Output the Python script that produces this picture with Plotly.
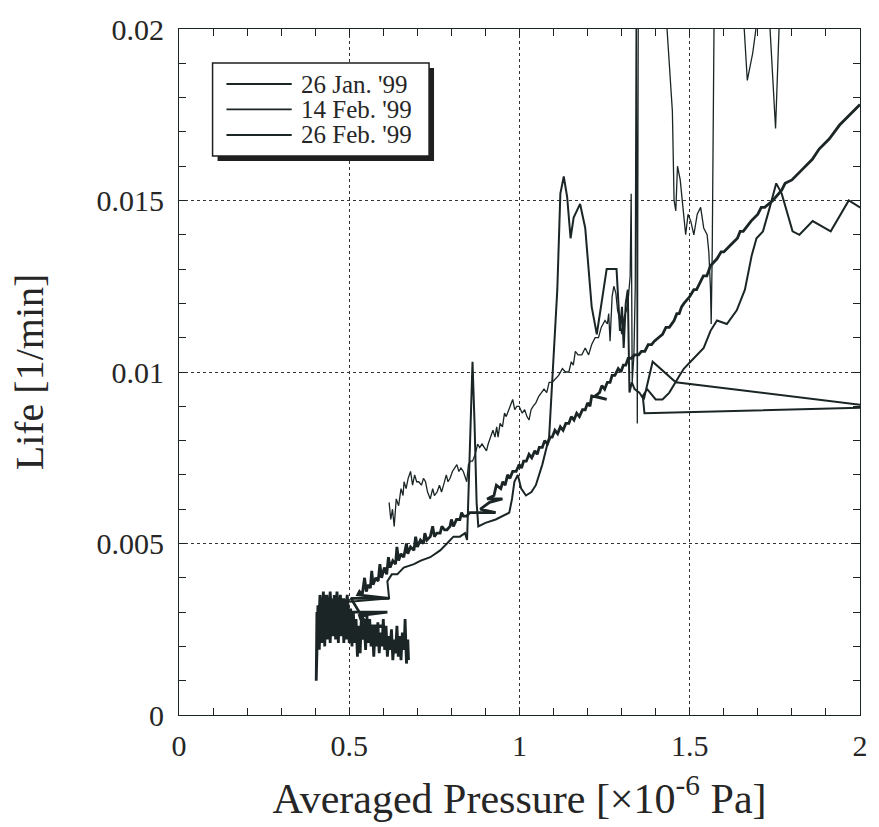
import plotly.graph_objects as go

# ---- data: averaged pressure [x1e-6 Pa] vs life [1/min] ----

# 26 Jan. '99 (thin trace, upper branch, many excursions above the axis limit)
jan26_p = [0.617, 0.622, 0.627, 0.632, 0.638, 0.645, 0.652, 0.658, 0.661, 0.667,
           0.673, 0.680, 0.686, 0.692, 0.698, 0.704, 0.712, 0.718, 0.724, 0.730,
           0.738, 0.745, 0.750, 0.758, 0.765, 0.771, 0.777, 0.785, 0.790, 0.796,
           0.803, 0.810, 0.816, 0.822, 0.828, 0.835, 0.841, 0.845, 0.850, 0.856,
           0.862, 0.870, 0.877, 0.883, 0.890, 0.897, 0.903, 0.908, 0.915, 0.922,
           0.928, 0.933, 0.937, 0.943, 0.950, 0.956, 0.961, 0.968, 0.975, 0.980,
           0.986, 0.992, 0.999, 1.008, 1.015, 1.022, 1.028, 1.034, 1.040, 1.048,
           1.057, 1.065, 1.072, 1.080, 1.087, 1.096, 1.105, 1.115, 1.126, 1.135,
           1.145, 1.152, 1.158, 1.164, 1.172, 1.183, 1.193, 1.203, 1.212, 1.222,
           1.232, 1.240, 1.251, 1.258, 1.262, 1.266, 1.272, 1.277, 1.283, 1.288,
           1.295, 1.300, 1.307, 1.314, 1.320, 1.325, 1.328, 1.331, 1.336, 1.340,
           1.343, 1.346, 1.349, 1.400, 1.430, 1.449, 1.454, 1.459, 1.464, 1.472,
           1.480, 1.488, 1.495, 1.503, 1.512, 1.522, 1.532, 1.541, 1.551, 1.556,
           1.561, 1.563, 1.566, 1.572, 1.620, 1.657, 1.669, 1.685, 1.701, 1.720,
           1.733, 1.752, 1.764, 1.800, 2.050]
jan26_life = [0.0062, 0.0057, 0.0060, 0.0055, 0.0063, 0.0061, 0.0066, 0.0064, 0.0068, 0.0066,
              0.0069, 0.0071, 0.0067, 0.0070, 0.0068, 0.0068, 0.0067, 0.0069, 0.0068, 0.0065,
              0.0063, 0.0066, 0.0064, 0.0065, 0.0067, 0.0065, 0.0067, 0.0070, 0.0068, 0.0069,
              0.0071, 0.0072, 0.0073, 0.0071, 0.0072, 0.0071, 0.0069, 0.0068, 0.0073, 0.0074,
              0.0074, 0.0076, 0.0079, 0.0078, 0.0079, 0.0078, 0.0077, 0.0079, 0.0081, 0.0083,
              0.0081, 0.0084, 0.0081, 0.0085, 0.0084, 0.0088, 0.0087, 0.0089, 0.0091, 0.0092,
              0.0089, 0.0090, 0.0090, 0.0088, 0.0089, 0.0087, 0.0086, 0.0089, 0.0090, 0.0091,
              0.0093, 0.0094, 0.0095, 0.0094, 0.0097, 0.0097, 0.0098, 0.0099, 0.0101, 0.0100,
              0.0100, 0.0103, 0.0102, 0.0106, 0.0105, 0.0105, 0.0107, 0.0105, 0.0108, 0.0110,
              0.0110, 0.0113, 0.0115, 0.0114, 0.0117, 0.0109, 0.0122, 0.0125, 0.0123, 0.0118,
              0.0115, 0.0111, 0.0116, 0.0118, 0.0122, 0.0128, 0.0152, 0.0097, 0.0105, 0.0125,
              0.0215, 0.0085, 0.0215, 0.0240, 0.0205, 0.0176, 0.0150, 0.0147, 0.0160, 0.0156,
              0.0148, 0.0140, 0.0146, 0.0144, 0.0140, 0.0146, 0.0148, 0.0142, 0.0140, 0.0135,
              0.0124, 0.0114, 0.0135, 0.0210, 0.0240, 0.0205, 0.0185, 0.0193, 0.0205, 0.0230,
              0.0205, 0.0171, 0.0205, 0.0240, 0.0250]

# 14 Feb. '99 (medium trace with the sharp spike near 0.86 and the peaks at 1.1-1.3)
feb14_p = [0.500, 0.617, 0.612, 0.625, 0.641, 0.660, 0.690, 0.710, 0.738, 0.767,
           0.787, 0.806, 0.825, 0.840, 0.846, 0.855, 0.862, 0.868, 0.874, 0.879,
           0.900, 0.930, 0.951, 0.970, 0.978, 0.985, 0.995, 1.005, 1.019, 1.035,
           1.048, 1.067, 1.087, 1.096, 1.104, 1.111, 1.120, 1.130, 1.140, 1.150,
           1.159, 1.178, 1.193, 1.203, 1.212, 1.227, 1.242, 1.256, 1.285, 1.290,
           1.295, 1.301, 1.306, 1.312, 1.318, 1.323, 1.330, 1.338, 1.352, 1.365,
           1.391, 1.459, 2.060, 1.367, 1.362, 1.375, 1.400, 1.420, 1.440, 1.470,
           1.483, 1.512, 1.541, 1.561, 1.580, 1.609, 1.638, 1.662, 1.682, 1.696,
           1.715, 1.735, 1.754, 1.770, 1.802, 1.822, 1.861, 1.914, 1.967, 2.000,
           2.040]
feb14_life = [0.0033, 0.0034, 0.0039, 0.0041, 0.0041, 0.0043, 0.0044, 0.0045, 0.0046, 0.0048,
              0.0050, 0.0052, 0.0052, 0.0053, 0.0051, 0.0080, 0.0103, 0.0085, 0.0062, 0.0055,
              0.0056, 0.0057, 0.0058, 0.0059, 0.0063, 0.0068, 0.0070, 0.0066, 0.0064, 0.0065,
              0.0067, 0.0073, 0.0081, 0.0097, 0.0115, 0.0124, 0.0152, 0.0157, 0.0151, 0.0139,
              0.0145, 0.0149, 0.0142, 0.0130, 0.0119, 0.0111, 0.0121, 0.0130, 0.0130, 0.0120,
              0.0112, 0.0119, 0.0107, 0.0120, 0.0124, 0.0094, 0.0097, 0.0095, 0.0094, 0.0092,
              0.0103, 0.0097, 0.00897, 0.0088, 0.0093, 0.0095, 0.0092, 0.0092, 0.0094, 0.0099,
              0.0101, 0.0104, 0.0107, 0.0112, 0.0115, 0.0114, 0.0118, 0.0124, 0.0134, 0.0139,
              0.0141, 0.0148, 0.0155, 0.0152, 0.0141, 0.0140, 0.0144, 0.0141, 0.0150, 0.0148,
              0.0146]

# 26 Feb. '99 (thick trace: dense cluster at low pressure, then a steady climb)
feb26_p = [
    # cluster, sweeping toward low pressure
    0.674, 0.672, 0.668, 0.664, 0.661, 0.656, 0.652, 0.648, 0.644, 0.640,
    0.636, 0.632, 0.628, 0.624, 0.620, 0.616, 0.612, 0.608, 0.604, 0.600,
    0.596, 0.592, 0.588, 0.584, 0.580, 0.576, 0.572, 0.568, 0.564, 0.560,
    0.556, 0.552, 0.548, 0.544, 0.540, 0.536, 0.532, 0.528, 0.524, 0.520,
    0.516, 0.512, 0.508, 0.504, 0.500, 0.496, 0.492, 0.488, 0.484, 0.480,
    0.476, 0.472, 0.468, 0.464, 0.460, 0.456, 0.452, 0.448, 0.444, 0.440,
    0.436, 0.432, 0.428, 0.424, 0.420, 0.416, 0.412, 0.408, 0.405, 0.403,
    0.405,
    # cluster, sweeping back along the upper band
    0.410, 0.414, 0.419, 0.424, 0.429, 0.434, 0.439, 0.444, 0.449, 0.454,
    0.459, 0.464, 0.469, 0.474, 0.479, 0.484, 0.489, 0.494, 0.499,
    0.505, 0.612, 0.530, 0.540, 0.600, 0.560, 0.505, 0.617, 0.525,
    # climb
    0.530, 0.538, 0.545, 0.550, 0.556, 0.562, 0.566, 0.570, 0.578, 0.585,
    0.590, 0.595, 0.603, 0.610, 0.615, 0.620, 0.628, 0.636, 0.640, 0.645,
    0.652, 0.660, 0.668, 0.672, 0.680, 0.690, 0.695, 0.700, 0.709, 0.718,
    0.722, 0.728, 0.738, 0.745, 0.750, 0.757, 0.767, 0.772, 0.780, 0.787,
    0.796, 0.800, 0.806, 0.815, 0.825, 0.830, 0.835, 0.845, 0.854, 0.874,
    0.890, 0.930, 0.885, 0.912, 0.950, 0.905, 0.925, 0.932, 0.945, 0.951,
    0.958, 0.965, 0.972, 0.980, 0.990, 0.999, 1.006, 1.012, 1.020, 1.028,
    1.036, 1.045, 1.052, 1.058, 1.067, 1.074, 1.082, 1.090, 1.096, 1.104,
    1.112, 1.120, 1.128, 1.136, 1.145, 1.152, 1.160, 1.168, 1.176, 1.185,
    1.193, 1.200, 1.207, 1.212, 1.256, 1.222, 1.235, 1.242, 1.250, 1.258,
    1.266, 1.272, 1.280, 1.290, 1.298, 1.305, 1.312, 1.319, 1.328, 1.338,
    1.350, 1.358, 1.368, 1.378, 1.388, 1.396, 1.408, 1.420, 1.430, 1.440,
    1.454, 1.462, 1.469, 1.476, 1.483, 1.500, 1.512, 1.520, 1.540, 1.550,
    1.561, 1.580, 1.592, 1.600, 1.620, 1.640, 1.648, 1.657, 1.680, 1.700,
    1.710, 1.720, 1.744, 1.770, 1.780, 1.800, 1.830, 1.860, 1.880, 1.910,
    1.940, 1.970, 2.000]
feb26_life = [
    0.0016, 0.0022, 0.0015, 0.0028, 0.0019, 0.0024, 0.0016, 0.0023, 0.0017, 0.0026,
    0.0018, 0.0022, 0.0016, 0.0025, 0.0019, 0.0023, 0.0017, 0.0026, 0.0019, 0.0028,
    0.0020, 0.0024, 0.0018, 0.0027, 0.0020, 0.0025, 0.0017, 0.0026, 0.0020, 0.0028,
    0.0021, 0.0029, 0.0019, 0.0027, 0.0022, 0.0030, 0.0018, 0.0026, 0.0017, 0.0028,
    0.0021, 0.0030, 0.0020, 0.0031, 0.0021, 0.0032, 0.0022, 0.0033, 0.0021, 0.0034,
    0.0023, 0.0033, 0.0021, 0.0034, 0.0022, 0.0035, 0.0023, 0.0033, 0.0021, 0.0034,
    0.0022, 0.0035, 0.0020, 0.0034, 0.0021, 0.0033, 0.0019, 0.0032, 0.0018, 0.0010,
    0.0030,
    0.0025, 0.0035, 0.0027, 0.0036, 0.0026, 0.0035, 0.0028, 0.0036, 0.0027, 0.0034,
    0.0029, 0.0036, 0.0028, 0.0035, 0.0027, 0.0034, 0.0029, 0.0035, 0.0028,
    0.0030, 0.0030, 0.0029, 0.0026, 0.0026, 0.0025, 0.0034, 0.0034, 0.0035,
    0.0036, 0.0035, 0.0040, 0.0036, 0.0038, 0.0037, 0.0042, 0.0038, 0.0040, 0.0039,
    0.0044, 0.0040, 0.0043, 0.0041, 0.0046, 0.0043, 0.0045, 0.0044, 0.0049, 0.0045,
    0.0047, 0.0046, 0.0050, 0.0047, 0.0049, 0.0048, 0.0052, 0.0049, 0.0051, 0.0050,
    0.0053, 0.0051, 0.0052, 0.0055, 0.0052, 0.0053, 0.0053, 0.0055, 0.0054, 0.0054,
    0.0055, 0.0057, 0.0055, 0.0057, 0.0057, 0.0059, 0.0058, 0.0058, 0.0059, 0.0059,
    0.0059, 0.0059, 0.0060, 0.0062, 0.0063, 0.0063, 0.0064, 0.0067, 0.0066, 0.0068,
    0.0067, 0.0070, 0.0069, 0.0071, 0.0071, 0.0073, 0.0072, 0.0074, 0.0074, 0.0076,
    0.0075, 0.0077, 0.0076, 0.0078, 0.0078, 0.0080, 0.0079, 0.0081, 0.0081, 0.0083,
    0.0082, 0.0084, 0.0083, 0.0085, 0.0085, 0.0087, 0.0086, 0.0088, 0.0087, 0.0089,
    0.0089, 0.0091, 0.0090, 0.0093, 0.0092, 0.0093, 0.0094, 0.0096, 0.0095, 0.0097,
    0.0097, 0.0099, 0.0099, 0.0101, 0.0100, 0.0102, 0.0102, 0.0104, 0.0104, 0.0105,
    0.0105, 0.0106, 0.0106, 0.0108, 0.0108, 0.0109, 0.0110, 0.0111, 0.0113, 0.0113,
    0.0115, 0.0117, 0.0117, 0.0119, 0.0120, 0.0122, 0.0124, 0.0124, 0.0128, 0.0128,
    0.0131, 0.0133, 0.0135, 0.0135, 0.0137, 0.0139, 0.0141, 0.0141, 0.0144, 0.0146,
    0.0148, 0.0148, 0.0150, 0.0153, 0.0155, 0.0156, 0.0159, 0.0162, 0.0165, 0.0168,
    0.0172, 0.0175, 0.0178]

series_names = ["26 Jan. '99", "14 Feb. '99", "26 Feb. '99"]
series_p = [jan26_p, feb14_p, feb26_p]
series_life = [jan26_life, feb14_life, feb26_life]
series_width = [1.3, 2.0, 2.8]

x_tick_vals = [0, 0.5, 1, 1.5, 2]
x_tick_text = ["0", "0.5", "1", "1.5", "2"]
y_tick_vals = [0, 0.005, 0.01, 0.015, 0.02]
y_tick_text = ["0", "0.005", "0.01", "0.015", "0.02"]

INK = "#1b2525"
TEXT = "#262626"
SERIF = "Liberation Serif, Times New Roman, serif"

fig = go.Figure()
for name, xs, ys, w in zip(series_names, series_p, series_life, series_width):
    fig.add_trace(go.Scatter(x=xs, y=ys, mode="lines", name=name,
                             line=dict(color=INK, width=w), showlegend=False))

axis_common = dict(
    ticks="inside", ticklen=7, tickwidth=1, tickcolor=INK,
    showline=True, linecolor=INK, linewidth=1.2, mirror="ticks",
    showgrid=True, gridcolor="#333333", griddash="dot", gridwidth=1,
    zeroline=False,
    tickfont=dict(family=SERIF, size=30, color=TEXT),
)

fig.update_xaxes(range=[0, 2], tickmode="array", tickvals=x_tick_vals, ticktext=x_tick_text,
                 minor=dict(tick0=0, dtick=0.1, ticks="inside", ticklen=7, tickcolor=INK, showgrid=False),
                 ticklabelstandoff=4,
                 title=dict(text="Averaged Pressure [×10<sup>-6</sup> Pa]",
                            font=dict(family=SERIF, size=42, color=TEXT), standoff=22),
                 **axis_common)
fig.update_yaxes(range=[0, 0.02], tickmode="array", tickvals=y_tick_vals, ticktext=y_tick_text,
                 minor=dict(tick0=0, dtick=0.001, ticks="inside", ticklen=7, tickcolor=INK, showgrid=False),
                 ticklabelstandoff=8,
                 title=dict(text="Life [1/min]",
                            font=dict(family=SERIF, size=40, color=TEXT), standoff=40),
                 **axis_common)

# legend box with drop shadow, drawn in paper coordinates
legend_left, legend_right = 0.0493, 0.3672
legend_bottom, legend_top = 0.8149, 0.9504
shadow_dx, shadow_dy = 0.0073, -0.0073
row_y = [0.9198, 0.8827, 0.8455]
sample_x0, sample_x1, label_x = 0.0697, 0.1655, 0.1756

shapes = [
    dict(type="rect", xref="paper", yref="paper", layer="above",
         x0=legend_left + shadow_dx, x1=legend_right + shadow_dx,
         y0=legend_bottom + shadow_dy, y1=legend_top + shadow_dy,
         fillcolor="#1f1f1f", line=dict(width=0)),
    dict(type="rect", xref="paper", yref="paper", layer="above",
         x0=legend_left, x1=legend_right, y0=legend_bottom, y1=legend_top,
         fillcolor="white", line=dict(color="#1f1f1f", width=1.5)),
]
annotations = []
for name, yy in zip(series_names, row_y):
    shapes.append(dict(type="line", xref="paper", yref="paper", layer="above",
                       x0=sample_x0, x1=sample_x1, y0=yy, y1=yy,
                       line=dict(color=INK, width=1.8)))
    annotations.append(dict(xref="paper", yref="paper", x=label_x, y=yy,
                            xanchor="left", yanchor="middle", showarrow=False,
                            text=name, font=dict(family=SERIF, size=25, color=TEXT)))

fig.update_layout(
    width=879, height=827,
    margin=dict(l=179, r=11, t=29, b=112),
    paper_bgcolor="white", plot_bgcolor="white",
    shapes=shapes, annotations=annotations,
    showlegend=False,
)

fig.write_html("out.html")
